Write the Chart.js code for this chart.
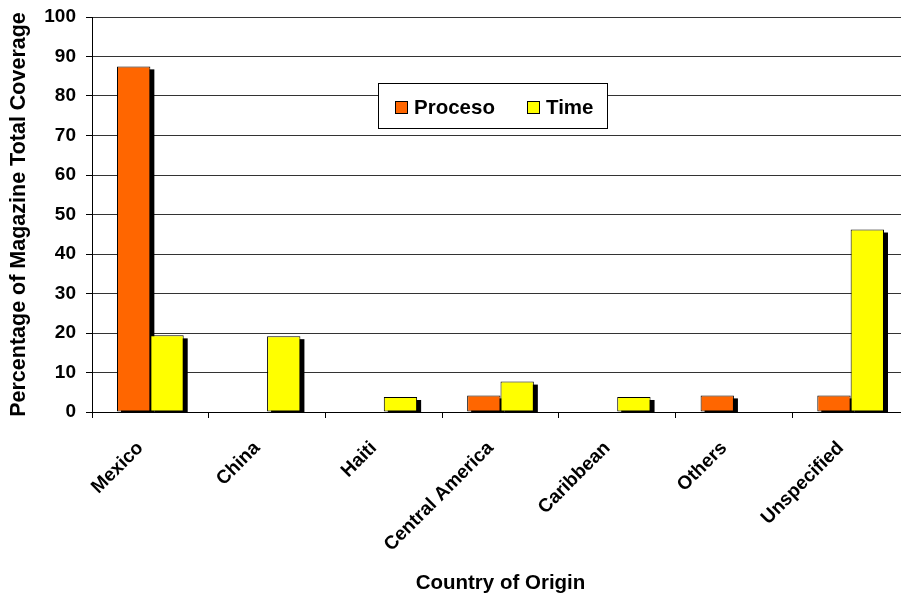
<!DOCTYPE html>
<html>
<head>
<meta charset="utf-8">
<script src="https://cdn.jsdelivr.net/npm/chart.js@4"></script>
<style>
  html, body { margin: 0; padding: 0; background: #fff; overflow: hidden; }
  #wrap { width: 901px; height: 599px; overflow: hidden; position: relative; }
  canvas { display: block; }
</style>
</head>
<body>
<div id="wrap"><canvas id="c" width="910" height="599" style="width:910px;height:599px"></canvas></div>
<script>
// ---- data ----
const categories = ["Mexico", "China", "Haiti", "Central America", "Caribbean", "Others", "Unspecified"];
const seriesNames = ["Proceso", "Time"];
const procesoValues = [87.5, 0, 0, 4.2, 0, 4.2, 4.2];
const timeValues = [19.4, 19.2, 3.8, 7.7, 3.8, 0, 46.2];
const yTickValues = [0, 10, 20, 30, 40, 50, 60, 70, 80, 90, 100];
const xAxisTitle = "Country of Origin";
const yAxisTitle = "Percentage of Magazine Total Coverage";

const FONT = '"Liberation Sans", Arial, Helvetica, sans-serif';
const seriesColors = ["#FF6600", "#FFFF00"];

// bar drop shadow (Excel-style), drawn from the library's bar elements
const shadowPlugin = {
  id: 'barShadow',
  beforeDatasetsDraw(chart) {
    const ctx = chart.ctx;
    const a = chart.chartArea;
    ctx.save();
    ctx.beginPath();
    ctx.rect(a.left, a.top, a.right - a.left, a.bottom - a.top);
    ctx.clip();
    ctx.fillStyle = '#000';
    chart.data.datasets.forEach((ds, i) => {
      const meta = chart.getDatasetMeta(i);
      meta.data.forEach((bar, j) => {
        if (!ds.data[j]) return;
        const p = bar.getProps(['x', 'y', 'base', 'width'], true);
        const left = p.x - p.width / 2 + 4;
        const top = Math.min(p.y, p.base) + 3;
        const h = Math.abs(p.base - p.y);
        ctx.fillRect(left, top, p.width, h);
      });
    });
    ctx.restore();
  }
};

// boxed legend inside plot area
const boxLegend = {
  id: 'boxLegend',
  afterDatasetsDraw(chart) {
    const ctx = chart.ctx;
    const box = { x: 378.5, y: 83.5, w: 229, h: 45 };
    ctx.save();
    ctx.fillStyle = '#fff';
    ctx.fillRect(box.x, box.y, box.w, box.h);
    ctx.strokeStyle = '#000';
    ctx.lineWidth = 1;
    ctx.strokeRect(box.x, box.y, box.w, box.h);
    const items = [{ sx: 395, tx: 414 }, { sx: 527, tx: 546 }];
    ctx.font = 'bold 20.5px ' + FONT;
    ctx.textBaseline = 'alphabetic';
    ctx.textAlign = 'left';
    chart.data.datasets.forEach((ds, i) => {
      const it = items[i];
      ctx.fillStyle = ds.backgroundColor;
      ctx.fillRect(it.sx + 0.5, 101.5, 12, 12);
      ctx.strokeStyle = '#000';
      ctx.strokeRect(it.sx + 0.5, 101.5, 12, 12);
      ctx.fillStyle = '#000';
      ctx.fillText(ds.label, it.tx, 114);
    });
    ctx.restore();
  }
};

new Chart(document.getElementById('c'), {
  type: 'bar',
  data: {
    labels: categories,
    datasets: [
      { label: seriesNames[0], data: procesoValues, backgroundColor: seriesColors[0], borderColor: '#000', borderWidth: 1, borderSkipped: false },
      { label: seriesNames[1], data: timeValues, backgroundColor: seriesColors[1], borderColor: '#000', borderWidth: 1, borderSkipped: false }
    ]
  },
  options: {
    responsive: false,
    animation: false,
    devicePixelRatio: 1,
    layout: { padding: { top: 17, right: 1, bottom: 0, left: 0 } },
    datasets: { bar: { categoryPercentage: 0.5714, barPercentage: 1 } },
    plugins: {
      legend: { display: false },
      tooltip: { enabled: false },
      title: { display: false }
    },
    scales: {
      x: {
        offset: true,
        grid: { drawOnChartArea: false, drawTicks: true, tickLength: 6, color: '#000', offset: true },
        border: { display: true, color: '#000', width: 1 },
        ticks: {
          color: '#000',
          font: { family: FONT, size: 19, weight: 'bold' },
          maxRotation: 45, minRotation: 45,
          padding: 19,
          labelOffset: -10,
          autoSkip: false
        },
        title: {
          display: true, text: xAxisTitle, color: '#000',
          font: { family: FONT, size: 20.5, weight: 'bold' },
          padding: { top: 0, bottom: 3 }
        },
        afterFit(scale) { scale.height = 187; scale.paddingLeft = 0; scale.paddingRight = 0; }
      },
      y: {
        min: 0, max: 100,
        afterBuildTicks(scale) { scale.ticks = yTickValues.map(v => ({ value: v })); },
        grid: { color: '#333', lineWidth: 1, drawTicks: true, tickLength: 6, tickColor: '#000' },
        border: { display: true, color: '#000', width: 1 },
        ticks: {
          color: '#000',
          font: { family: FONT, size: 19, weight: 'bold' },
          padding: 10
        },
        title: {
          display: true, text: yAxisTitle, color: '#000',
          font: { family: FONT, size: 21.5, weight: 'bold' },
          padding: { top: 6, bottom: 0 }
        },
        afterFit(scale) { scale.width = 92; scale.paddingTop = 0; scale.paddingBottom = 0; }
      }
    }
  },
  plugins: [shadowPlugin, boxLegend]
});
</script>
</body>
</html>
